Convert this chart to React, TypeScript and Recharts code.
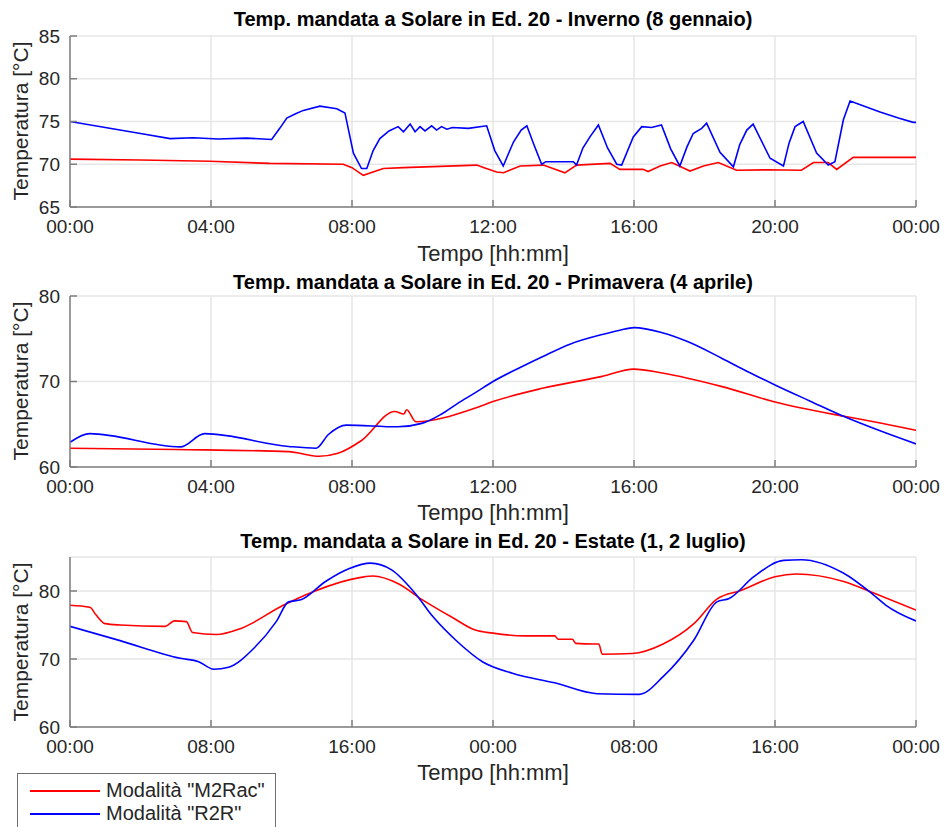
import { CartesianGrid, Line, LineChart, XAxis, YAxis } from "recharts";

// Inverno (8 gennaio)
const winterRedHours = [0, 2, 3.97, 5.67, 7.75, 8.0, 8.32, 8.89, 9.46, 10.5, 11.54, 11.75, 12.1, 12.3, 12.77, 13.43, 13.7, 14.04, 14.37, 15.32, 15.6, 16.26, 16.4, 16.74, 17.07, 17.59, 17.97, 18.39, 18.91, 19.8, 20.75, 21.09, 21.51, 21.75, 22.22, 24];
const winterRedTemp = [70.6, 70.5, 70.35, 70.1, 70.0, 69.6, 68.7, 69.5, 69.6, 69.75, 69.9, 69.6, 69.1, 69.0, 69.8, 69.9, 69.5, 69.0, 69.9, 70.1, 69.4, 69.4, 69.15, 69.8, 70.2, 69.2, 69.8, 70.2, 69.3, 69.35, 69.3, 70.2, 70.2, 69.4, 70.8, 70.8];
const winterBlueHours = [
  0, 1, 2, 2.84, 3.5, 4.2, 5.0, 5.72, 5.95, 6.15, 6.4, 6.62, 7.09, 7.57, 7.8, 8.04, 8.27, 8.42, 8.6, 8.79, 9.05, 9.31,
  9.46, 9.65, 9.79, 9.93, 10.07, 10.26, 10.4, 10.54, 10.69, 10.85, 11.3, 11.82, 12.05, 12.29, 12.58, 12.8, 12.96,
  13.17, 13.38, 13.5, 14.28, 14.37, 14.55, 14.75, 14.99, 15.25, 15.51, 15.65, 15.98, 16.22, 16.5, 16.78, 17.04, 17.3,
  17.5, 17.68, 17.92, 18.06, 18.44, 18.82, 19.0, 19.2, 19.38, 19.86, 20.24, 20.4, 20.57, 20.8, 21.18, 21.51, 21.7,
  21.94, 22.13, 22.98, 23.5, 23.92, 24,
];
const winterBlueTemp = [
  75.0, 74.3, 73.6, 73.0, 73.1, 72.95, 73.05, 72.9, 74.2, 75.4, 75.9, 76.3, 76.8, 76.5, 76.0, 71.3, 69.5, 69.5, 71.6, 73.0, 73.9, 74.4,
  73.8, 74.7, 73.8, 74.4, 73.9, 74.5, 74.0, 74.4, 74.1, 74.3, 74.2, 74.5, 71.6, 69.8, 72.6, 74.0, 74.5,
  72.2, 70.0, 70.3, 70.3, 69.9, 71.9, 73.2, 74.6, 71.9, 70.0, 69.9, 73.2, 74.4, 74.3, 74.6, 71.8, 69.8,
  72.0, 73.6, 74.2, 74.8, 71.4, 69.7, 72.3, 74.0, 74.7, 70.7, 69.8, 72.5, 74.4, 75.0, 71.3, 69.9, 70.3,
  75.2, 77.4, 76.1, 75.4, 74.9, 74.9,
];

// Primavera (4 aprile)
const springRedHours = [0, 3, 6.2, 7.07, 7.6, 8.27, 9.21, 9.47, 9.55, 9.81, 11.5, 12.0, 13.4, 15.1, 16.0, 16.8, 18.5, 20.0, 22.0, 22.8, 24];
const springRedTemp = [62.2, 62.05, 61.8, 61.25, 61.6, 63.1, 66.5, 66.2, 66.7, 65.3, 66.9, 67.65, 69.2, 70.6, 71.45, 71.0, 69.4, 67.6, 65.9, 65.3, 64.3];
const springBlueHours = [0, 0.56, 3.13, 3.82, 6.2, 6.98, 7.33, 7.84, 9.29, 9.98, 10.5, 11.0, 11.5, 12.0, 12.7, 13.4, 14.2, 15.1, 15.6, 16.0, 16.8, 17.5, 18.5, 19.2, 20.0, 21.0, 21.96, 23.0, 24];
const springBlueTemp = [62.9, 63.9, 62.35, 63.9, 62.4, 62.2, 63.8, 64.9, 64.7, 65.1, 66.1, 67.45, 68.7, 70.0, 71.5, 72.9, 74.4, 75.5, 76.0, 76.3, 75.7, 74.7, 72.7, 71.2, 69.6, 67.7, 65.9, 64.2, 62.7];

// Estate (1, 2 luglio)
const summerRedHours = [0, 1.13, 1.47, 1.99, 2.84, 5.4, 5.92, 6.6, 6.95, 8.3, 9.7, 12.1, 13.8, 16.5, 17.2, 18.6, 20.0, 21.7, 23.0, 24.0, 25.8, 27.5, 27.7, 28.5, 28.7, 29.7, 30.0, 30.2, 31.9, 33.65, 35.4, 36.7, 38.1, 40.0, 41.2, 43.9, 45.6, 48];
const summerRedTemp = [77.9, 77.6, 76.5, 75.2, 75.0, 74.8, 75.6, 75.5, 73.9, 73.6, 74.5, 77.9, 79.9, 82.0, 82.2, 81.1, 78.7, 76.1, 74.25, 73.8, 73.4, 73.4, 72.9, 72.9, 72.3, 72.2, 72.2, 70.7, 70.8, 72.2, 75.2, 78.8, 80.1, 82.1, 82.5, 81.4, 79.7, 77.2];
const summerBlueHours = [0, 2.84, 6.27, 7.3, 8.15, 9.0, 10.4, 11.7, 12.4, 13.1, 14.5, 15.85, 17.05, 18.25, 19.6, 20.6, 22.0, 23.4, 25.1, 27.5, 29.9, 32.3, 33.65, 35.4, 36.7, 37.4, 38.8, 40.5, 41.5, 43.9, 45.6, 46.3, 48];
const summerBlueTemp = [74.8, 72.7, 70.1, 69.6, 68.5, 68.8, 71.5, 75.5, 78.4, 78.7, 81.4, 83.3, 84.1, 83.1, 79.6, 76.2, 72.5, 69.6, 67.9, 66.5, 64.9, 64.8, 67.4, 72.8, 78.4, 78.9, 82.1, 84.5, 84.6, 82.6, 79.4, 77.9, 75.6];

const dayTicks = [0, 4, 8, 12, 16, 20, 24];
const twoDayTicks = [0, 8, 16, 24, 32, 40, 48];
const winterYTicks = [65, 70, 75, 80, 85];
const springYTicks = [60, 70, 80];
const summerYTicks = [60, 70, 80];

const titles = [
  "Temp. mandata a Solare in Ed. 20 - Inverno (8 gennaio)",
  "Temp. mandata a Solare in Ed. 20 - Primavera (4 aprile)",
  "Temp. mandata a Solare in Ed. 20 - Estate (1, 2 luglio)",
];
const series = [
  { name: 'Modalità "M2Rac"', color: "#ff0000" },
  { name: 'Modalità "R2R"', color: "#0000ff" },
];

const font = '"Liberation Sans", Arial, Helvetica, sans-serif';
const axisGray = "#7f7f7f";
const textGray = "#262626";

const toPoints = (hours: number[], temps: number[]) => hours.map((t, i) => ({ t, v: temps[i] }));

const hhmm = (h: number) => `${String(h % 24).padStart(2, "0")}:00`;

type PanelProps = {
  top: number;
  height: number;
  marginTop: number;
  xAxisHeight: number;
  xMax: number;
  xTicks: number[];
  yDomain: [number, number];
  yTicks: number[];
  red: { t: number; v: number }[];
  blue: { t: number; v: number }[];
  curve: "linear" | "monotoneX";
};

function Panel({ top, height, marginTop, xAxisHeight, xMax, xTicks, yDomain, yTicks, red, blue, curve }: PanelProps) {
  const tickStyle = { fill: textGray, fontSize: 19, fontFamily: font };
  return (
    <div style={{ position: "absolute", left: 0, top, width: 945, height }}>
      <LineChart width={945} height={height} margin={{ top: marginTop, right: 29, bottom: 0, left: 0 }}>
        <CartesianGrid stroke="#e6e6e6" strokeWidth={1.5} />
        <XAxis
          type="number"
          dataKey="t"
          domain={[0, xMax]}
          ticks={xTicks}
          interval={0}
          tickFormatter={hhmm}
          height={xAxisHeight}
          tickSize={-7}
          tickMargin={20}
          axisLine={{ stroke: axisGray, strokeWidth: 1.5 }}
          tickLine={{ stroke: axisGray, strokeWidth: 1.5 }}
          tick={tickStyle}
          allowDataOverflow
        />
        <XAxis
          xAxisId="top"
          orientation="top"
          type="number"
          dataKey="t"
          domain={[0, xMax]}
          ticks={xTicks}
          interval={0}
          height={0}
          tickSize={-7}
          tickFormatter={() => ""}
          axisLine={{ stroke: axisGray, strokeWidth: 1.5 }}
          tickLine={{ stroke: axisGray, strokeWidth: 1.5 }}
          allowDataOverflow
        />
        <YAxis
          type="number"
          domain={yDomain}
          ticks={yTicks}
          interval={0}
          width={70}
          tickSize={-7}
          tickMargin={17}
          axisLine={{ stroke: axisGray, strokeWidth: 1.5 }}
          tickLine={{ stroke: axisGray, strokeWidth: 1.5 }}
          tick={tickStyle}
          allowDataOverflow
        />
        <YAxis
          yAxisId="right"
          orientation="right"
          type="number"
          domain={yDomain}
          ticks={yTicks}
          interval={0}
          width={0}
          tickSize={-7}
          tickFormatter={() => ""}
          axisLine={{ stroke: axisGray, strokeWidth: 1.5 }}
          tickLine={{ stroke: axisGray, strokeWidth: 1.5 }}
          allowDataOverflow
        />
        <Line data={red} dataKey="v" type={curve} stroke={series[0].color} strokeWidth={1.6} dot={false} isAnimationActive={false} />
        <Line data={blue} dataKey="v" type={curve} stroke={series[1].color} strokeWidth={1.6} dot={false} isAnimationActive={false} />
      </LineChart>
    </div>
  );
}

function CenteredText({ text, cy, size, bold }: { text: string; cy: number; size: number; bold?: boolean }) {
  return (
    <div
      style={{
        position: "absolute",
        left: 70,
        width: 846,
        top: cy - 13,
        height: 26,
        lineHeight: "26px",
        textAlign: "center",
        fontFamily: font,
        fontSize: size,
        fontWeight: bold ? "bold" : "normal",
        color: bold ? "#000" : textGray,
        whiteSpace: "nowrap",
      }}
    >
      {text}
    </div>
  );
}

function YLabel({ cy }: { cy: number }) {
  return (
    <div
      style={{
        position: "absolute",
        left: 21 - 110,
        top: cy - 13,
        width: 220,
        height: 26,
        lineHeight: "26px",
        textAlign: "center",
        fontFamily: font,
        fontSize: 21,
        color: textGray,
        transform: "rotate(-90deg)",
        transformOrigin: "50% 50%",
        whiteSpace: "nowrap",
      }}
    >
      Temperatura [°C]
    </div>
  );
}

export default function App() {
  return (
    <div style={{ position: "absolute", left: 0, top: 0, width: 945, height: 827, background: "#fff", overflow: "hidden" }}>
      <Panel
        top={0}
        height={270}
        marginTop={36}
        xAxisHeight={63}
        xMax={24}
        xTicks={dayTicks}
        yDomain={[65, 85]}
        yTicks={winterYTicks}
        red={toPoints(winterRedHours, winterRedTemp)}
        blue={toPoints(winterBlueHours, winterBlueTemp)}
        curve="linear"
      />
      <Panel
        top={270}
        height={250}
        marginTop={26}
        xAxisHeight={53}
        xMax={24}
        xTicks={dayTicks}
        yDomain={[60, 80]}
        yTicks={springYTicks}
        red={toPoints(springRedHours, springRedTemp)}
        blue={toPoints(springBlueHours, springBlueTemp)}
        curve="monotoneX"
      />
      <Panel
        top={520}
        height={307}
        marginTop={37}
        xAxisHeight={100}
        xMax={48}
        xTicks={twoDayTicks}
        yDomain={[60, 85]}
        yTicks={summerYTicks}
        red={toPoints(summerRedHours, summerRedTemp)}
        blue={toPoints(summerBlueHours, summerBlueTemp)}
        curve="monotoneX"
      />

      <CenteredText text={titles[0]} cy={19} size={20} bold />
      <CenteredText text={titles[1]} cy={282} size={20} bold />
      <CenteredText text={titles[2]} cy={541} size={20} bold />
      <CenteredText text="Tempo [hh:mm]" cy={254} size={22} />
      <CenteredText text="Tempo [hh:mm]" cy={513} size={22} />
      <CenteredText text="Tempo [hh:mm]" cy={773} size={22} />
      <YLabel cy={121} />
      <YLabel cy={381} />
      <YLabel cy={642} />

      <div
        style={{
          position: "absolute",
          left: 17,
          top: 773,
          width: 257,
          height: 70,
          border: "1.5px solid #6f6f6f",
          background: "#fff",
        }}
      >
        {series.map((s, i) => (
          <div key={s.name} style={{ position: "absolute", left: 0, top: 5 + i * 23, height: 23, width: 257 }}>
            <div style={{ position: "absolute", left: 12, top: 11, width: 70, height: 2, background: s.color }} />
            <div
              style={{
                position: "absolute",
                left: 88,
                top: 0,
                lineHeight: "23px",
                fontFamily: font,
                fontSize: 20,
                color: textGray,
                whiteSpace: "nowrap",
              }}
            >
              {s.name}
            </div>
          </div>
        ))}
      </div>
    </div>
  );
}
